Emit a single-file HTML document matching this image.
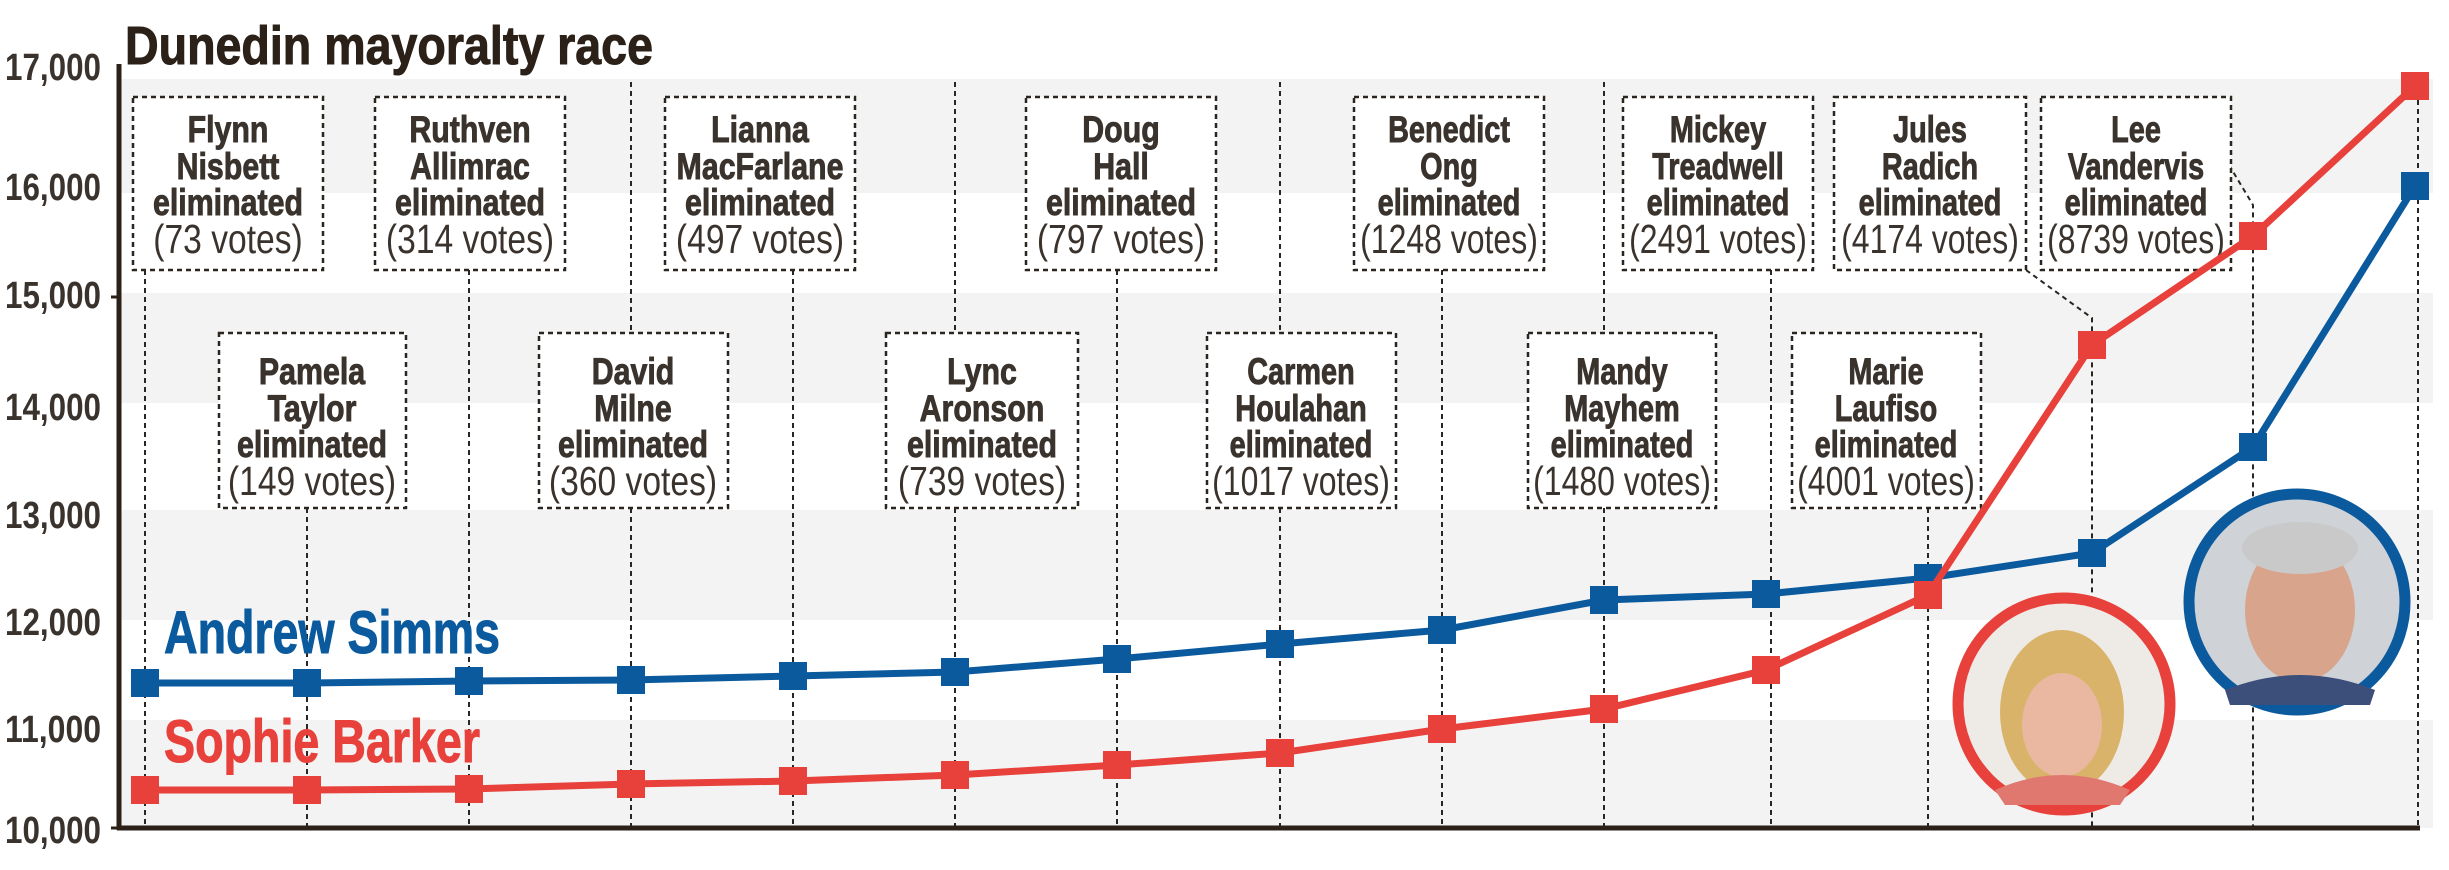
<!DOCTYPE html>
<html><head><meta charset="utf-8"><style>
html,body{margin:0;padding:0;background:#fff;}
svg{display:block;}
</style></head><body>
<svg width="2449" height="870" viewBox="0 0 2449 870" xmlns="http://www.w3.org/2000/svg" font-family="Liberation Sans, sans-serif">
<rect width="2449" height="870" fill="#fff"/>
<g fill="#f3f3f3">
<rect x="121" y="79" width="2312" height="114"/>
<rect x="121" y="293" width="2312" height="110"/>
<rect x="121" y="510" width="2312" height="110"/>
<rect x="121" y="720" width="2312" height="108"/>
</g>
<text x="125" y="64" font-size="54" font-weight="bold" fill="#2b2118" stroke="#2b2118" stroke-width="1" textLength="528" lengthAdjust="spacingAndGlyphs">Dunedin mayoralty race</text>
<g font-size="38" font-weight="bold" fill="#3a332d" text-anchor="end">
<text x="101" y="80" textLength="96" lengthAdjust="spacingAndGlyphs">17,000</text>
<text x="101" y="200" textLength="96" lengthAdjust="spacingAndGlyphs">16,000</text>
<text x="101" y="308" textLength="96" lengthAdjust="spacingAndGlyphs">15,000</text>
<text x="101" y="420" textLength="96" lengthAdjust="spacingAndGlyphs">14,000</text>
<text x="101" y="528" textLength="96" lengthAdjust="spacingAndGlyphs">13,000</text>
<text x="101" y="635" textLength="96" lengthAdjust="spacingAndGlyphs">12,000</text>
<text x="101" y="742" textLength="96" lengthAdjust="spacingAndGlyphs">11,000</text>
<text x="101" y="843" textLength="96" lengthAdjust="spacingAndGlyphs">10,000</text>
</g>
<g stroke="#2b2118" stroke-width="3">
<line x1="111" y1="297" x2="119" y2="297"/>
<line x1="111" y1="828" x2="119" y2="828"/>
</g>
<g stroke="#2b2520" stroke-width="2" stroke-dasharray="5,4" fill="none">
<line x1="145" y1="270" x2="145" y2="828"/>
<line x1="307" y1="508" x2="307" y2="828"/>
<line x1="469" y1="270" x2="469" y2="828"/>
<line x1="631" y1="82" x2="631" y2="333"/>
<line x1="631" y1="508" x2="631" y2="828"/>
<line x1="793" y1="270" x2="793" y2="828"/>
<line x1="955" y1="82" x2="955" y2="333"/>
<line x1="955" y1="508" x2="955" y2="828"/>
<line x1="1117" y1="270" x2="1117" y2="828"/>
<line x1="1280" y1="82" x2="1280" y2="333"/>
<line x1="1280" y1="508" x2="1280" y2="828"/>
<line x1="1442" y1="270" x2="1442" y2="828"/>
<line x1="1604" y1="82" x2="1604" y2="333"/>
<line x1="1604" y1="508" x2="1604" y2="828"/>
<line x1="1771" y1="270" x2="1771" y2="828"/>
<line x1="1928" y1="508" x2="1928" y2="828"/>
<polyline points="2026,270 2092,318 2092,828"/>
<polyline points="2229,165 2253,205 2253,828"/>
<line x1="2418" y1="82" x2="2418" y2="828"/>
</g>
<g fill="#fff" stroke="#2b2520" stroke-width="2.5" stroke-dasharray="5,4">
<rect x="133" y="97" width="190" height="173"/>
<rect x="375" y="97" width="190" height="173"/>
<rect x="665" y="97" width="190" height="173"/>
<rect x="1026" y="97" width="190" height="173"/>
<rect x="1354" y="97" width="190" height="173"/>
<rect x="1623" y="97" width="190" height="173"/>
<rect x="1834" y="97" width="192" height="173"/>
<rect x="2041" y="97" width="190" height="173"/>
<rect x="219" y="333" width="187" height="175"/>
<rect x="539" y="333" width="189" height="175"/>
<rect x="886" y="333" width="192" height="175"/>
<rect x="1207" y="333" width="189" height="175"/>
<rect x="1528" y="333" width="188" height="175"/>
<rect x="1792" y="333" width="189" height="175"/>
</g>
<style>
.b{font-weight:bold;stroke:#3a332d;stroke-width:0.9;}
.r{font-size:41px;}
</style>
<g fill="#3a332d" font-size="37" text-anchor="middle">
<g transform="translate(228,0) scale(0.82,1)"><text y="142" class="b">Flynn</text><text y="179" class="b">Nisbett</text><text y="215" class="b">eliminated</text><text y="253" class="r">(73 votes)</text></g>
<g transform="translate(470,0) scale(0.82,1)"><text y="142" class="b">Ruthven</text><text y="179" class="b">Allimrac</text><text y="215" class="b">eliminated</text><text y="253" class="r">(314 votes)</text></g>
<g transform="translate(760,0) scale(0.82,1)"><text y="142" class="b">Lianna</text><text y="179" class="b">MacFarlane</text><text y="215" class="b">eliminated</text><text y="253" class="r">(497 votes)</text></g>
<g transform="translate(1121,0) scale(0.82,1)"><text y="142" class="b">Doug</text><text y="179" class="b">Hall</text><text y="215" class="b">eliminated</text><text y="253" class="r">(797 votes)</text></g>
<g transform="translate(1449,0) scale(0.78,1)"><text y="142" class="b">Benedict</text><text y="179" class="b">Ong</text><text y="215" class="b">eliminated</text><text y="253" class="r">(1248 votes)</text></g>
<g transform="translate(1718,0) scale(0.78,1)"><text y="142" class="b">Mickey</text><text y="179" class="b">Treadwell</text><text y="215" class="b">eliminated</text><text y="253" class="r">(2491 votes)</text></g>
<g transform="translate(1930,0) scale(0.78,1)"><text y="142" class="b">Jules</text><text y="179" class="b">Radich</text><text y="215" class="b">eliminated</text><text y="253" class="r">(4174 votes)</text></g>
<g transform="translate(2136,0) scale(0.78,1)"><text y="142" class="b">Lee</text><text y="179" class="b">Vandervis</text><text y="215" class="b">eliminated</text><text y="253" class="r">(8739 votes)</text></g>
<g transform="translate(312,0) scale(0.82,1)"><text y="384" class="b">Pamela</text><text y="421" class="b">Taylor</text><text y="457" class="b">eliminated</text><text y="495" class="r">(149 votes)</text></g>
<g transform="translate(633,0) scale(0.82,1)"><text y="384" class="b">David</text><text y="421" class="b">Milne</text><text y="457" class="b">eliminated</text><text y="495" class="r">(360 votes)</text></g>
<g transform="translate(982,0) scale(0.82,1)"><text y="384" class="b">Lync</text><text y="421" class="b">Aronson</text><text y="457" class="b">eliminated</text><text y="495" class="r">(739 votes)</text></g>
<g transform="translate(1301,0) scale(0.78,1)"><text y="384" class="b">Carmen</text><text y="421" class="b">Houlahan</text><text y="457" class="b">eliminated</text><text y="495" class="r">(1017 votes)</text></g>
<g transform="translate(1622,0) scale(0.78,1)"><text y="384" class="b">Mandy</text><text y="421" class="b">Mayhem</text><text y="457" class="b">eliminated</text><text y="495" class="r">(1480 votes)</text></g>
<g transform="translate(1886,0) scale(0.78,1)"><text y="384" class="b">Marie</text><text y="421" class="b">Laufiso</text><text y="457" class="b">eliminated</text><text y="495" class="r">(4001 votes)</text></g>
</g>
<line x1="119" y1="64" x2="119" y2="830" stroke="#2b2118" stroke-width="5"/>
<line x1="117" y1="828" x2="2420" y2="828" stroke="#2b2118" stroke-width="5"/>
<polyline fill="none" stroke="#0b5a9e" stroke-width="7" points="145,683 307,683 469,681 631,680 793,676 955,672 1117,659 1280,644 1442,630 1604,600 1766,594 1928,578 2092,553 2253,447 2415,186"/>
<g fill="#0b5a9e">
<rect x="131" y="669" width="28" height="28"/><rect x="293" y="669" width="28" height="28"/><rect x="455" y="667" width="28" height="28"/><rect x="617" y="666" width="28" height="28"/><rect x="779" y="662" width="28" height="28"/><rect x="941" y="658" width="28" height="28"/><rect x="1103" y="645" width="28" height="28"/><rect x="1266" y="630" width="28" height="28"/><rect x="1428" y="616" width="28" height="28"/><rect x="1590" y="586" width="28" height="28"/><rect x="1752" y="580" width="28" height="28"/><rect x="1914" y="564" width="28" height="28"/><rect x="2078" y="539" width="28" height="28"/><rect x="2239" y="433" width="28" height="28"/><rect x="2401" y="172" width="28" height="28"/>
</g>
<polyline fill="none" stroke="#e8403a" stroke-width="7" points="145,790 307,790 469,789 631,784 793,781 955,775 1117,765 1280,753 1442,729 1604,709 1766,670 1928,595 2092,345 2253,236 2415,86"/>
<g fill="#e8403a">
<rect x="131" y="776" width="28" height="28"/><rect x="293" y="776" width="28" height="28"/><rect x="455" y="775" width="28" height="28"/><rect x="617" y="770" width="28" height="28"/><rect x="779" y="767" width="28" height="28"/><rect x="941" y="761" width="28" height="28"/><rect x="1103" y="751" width="28" height="28"/><rect x="1266" y="739" width="28" height="28"/><rect x="1428" y="715" width="28" height="28"/><rect x="1590" y="695" width="28" height="28"/><rect x="1752" y="656" width="28" height="28"/><rect x="1914" y="581" width="28" height="28"/><rect x="2078" y="331" width="28" height="28"/><rect x="2239" y="222" width="28" height="28"/><rect x="2401" y="72" width="28" height="28"/>
</g>
<text x="164" y="653" font-size="60" font-weight="bold" fill="#0b5a9e" stroke="#0b5a9e" stroke-width="1" textLength="336" lengthAdjust="spacingAndGlyphs">Andrew Simms</text>
<text x="164" y="762" font-size="60" font-weight="bold" fill="#e8403a" stroke="#e8403a" stroke-width="1" textLength="316" lengthAdjust="spacingAndGlyphs">Sophie Barker</text>
<circle cx="2064" cy="704" r="106" fill="#eeeae6" stroke="#e8403a" stroke-width="11"/>
<ellipse cx="2062" cy="712" rx="62" ry="82" fill="#d9b36a"/>
<ellipse cx="2062" cy="725" rx="40" ry="52" fill="#eab8a0"/>
<path d="M1995,790 Q2062,760 2130,790 L2120,805 L2005,805 Z" fill="#e07870"/>
<circle cx="2297" cy="602" r="108" fill="#cfd2d6" stroke="#0b5a9e" stroke-width="11"/>
<ellipse cx="2300" cy="610" rx="55" ry="72" fill="#d8a48c"/>
<ellipse cx="2300" cy="548" rx="58" ry="26" fill="#c9c9c9"/>
<path d="M2225,690 Q2300,660 2375,690 L2370,705 L2230,705 Z" fill="#3b4f7a"/>
</svg>
</body></html>
